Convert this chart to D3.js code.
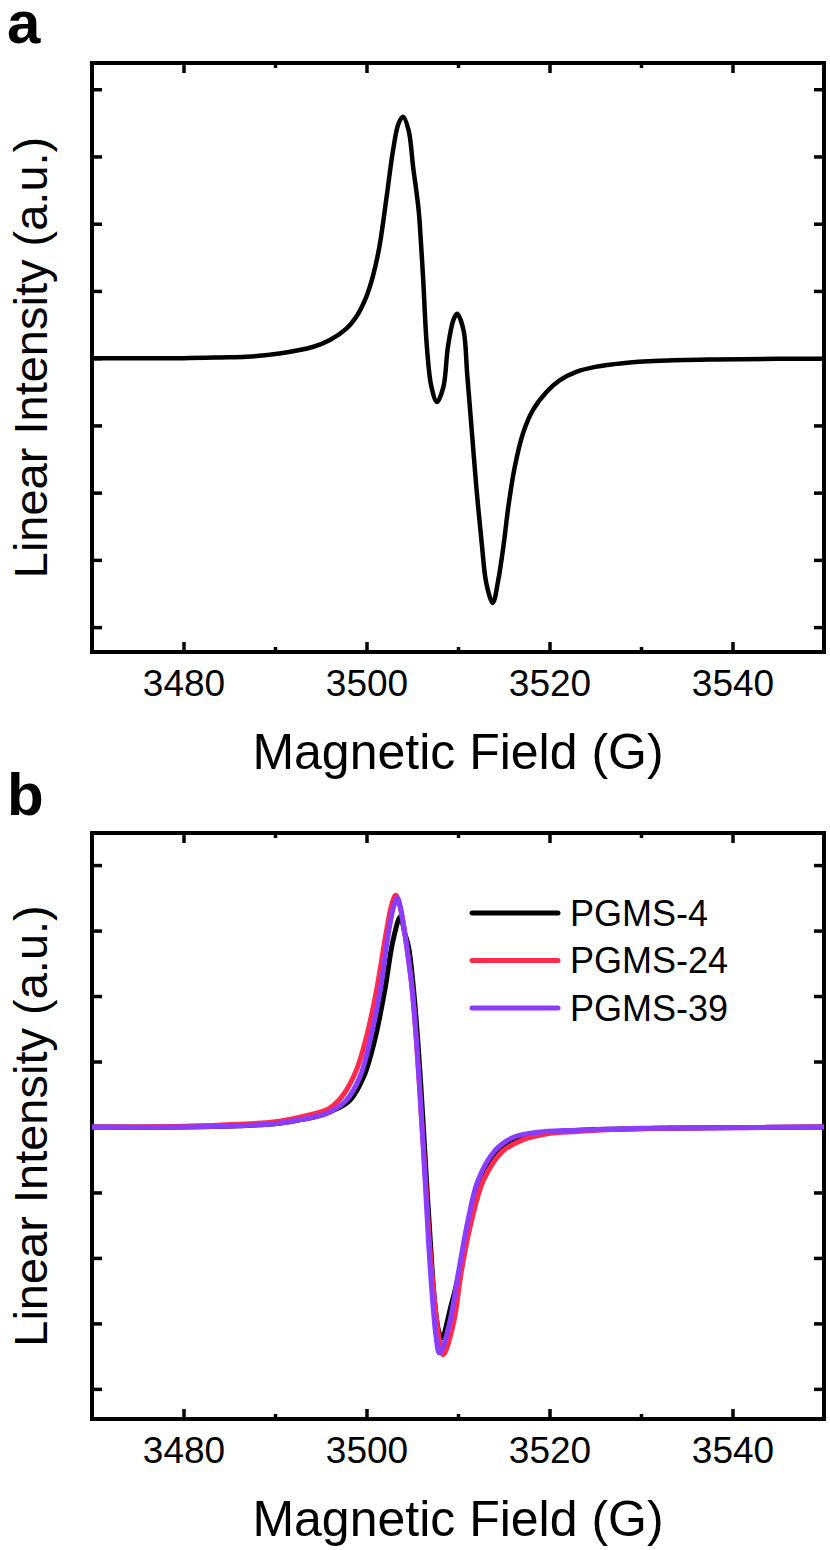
<!DOCTYPE html>
<html>
<head>
<meta charset="utf-8">
<script src="https://cdn.jsdelivr.net/npm/d3@7"></script>
<style>
  body { margin: 0; background: #fff; }
  text { font-family: 'Liberation Sans', Arial, sans-serif; fill: #000; }
</style>
</head>
<body>
<div id="chart"></div>
<script>
// EPR spectra, values: [field (G), intensity (a.u.)]

var spectrumA = [
  [3470, 0], [3475, 0], [3480, 0], [3484, 0.01], [3486.9, 0.02], [3490.5, 0.07],
  [3494.2, 0.17], [3496.0, 0.27], [3497.8, 0.44], [3498.9, 0.62], [3500.0, 0.92],
  [3500.7, 1.22], [3501.4, 1.65], [3502.2, 2.4], [3502.9, 3.09], [3503.5, 3.49],
  [3504.0, 3.59], [3504.6, 3.39], [3505.1, 2.84], [3505.7, 2.2], [3506.0, 1.61],
  [3506.2, 1.16], [3506.6, 0.17], [3507.1, -0.43], [3507.7, -0.65], [3508.4, -0.43],
  [3508.9, 0.17], [3509.5, 0.57], [3509.9, 0.66], [3510.6, 0.42], [3511.0, -0.23],
  [3511.5, -1.07], [3512.0, -1.91], [3512.6, -2.76], [3513.1, -3.35], [3513.8, -3.64],
  [3514.4, -3.3], [3515.0, -2.76], [3515.5, -2.21], [3516.2, -1.62], [3517.1, -1.12],
  [3518.2, -0.77], [3519.7, -0.5], [3521.1, -0.33], [3523, -0.2], [3525, -0.13],
  [3528, -0.075], [3532, -0.04], [3538, -0.02], [3545, -0.01], [3550, -0.01]
]

var pgms4 = [
  [3470, 0], [3480, 0], [3486, 0.02], [3490, 0.05], [3492.7, 0.11], [3494.5, 0.16],
  [3496.0, 0.23], [3498.2, 0.41], [3499.7, 0.77], [3500.9, 1.33], [3502.0, 2.09],
  [3502.9, 2.85], [3503.7, 3.21], [3504.2, 2.95], [3504.6, 2.75], [3505.15, 2.09],
  [3505.65, 1.23], [3506.15, 0.15], [3506.55, -0.8], [3507.0, -1.8], [3507.4, -2.6],
  [3507.85, -3.1], [3508.2, -3.22], [3509.3, -2.7], [3510.2, -2.18], [3511.3, -1.42],
  [3512.4, -0.81], [3514.4, -0.37], [3516.6, -0.17], [3520, -0.08], [3525, -0.04],
  [3532, -0.02], [3550, 0]
]

var pgms24 = [
  [3470, 0], [3480, 0.01], [3486, 0.04], [3490, 0.08], [3492.7, 0.15], [3494.5, 0.21],
  [3496.0, 0.29], [3497.5, 0.5], [3498.9, 0.87], [3500.0, 1.38], [3501.1, 2.09],
  [3502.2, 3.01], [3502.8, 3.42], [3503.2, 3.54], [3503.7, 3.35], [3504.4, 2.75],
  [3505.0, 2.09], [3505.5, 1.23], [3506.0, 0.15], [3506.45, -0.8], [3506.9, -1.8],
  [3507.4, -2.6], [3507.9, -3.2], [3508.4, -3.48], [3509.5, -3.0], [3510.4, -2.18],
  [3511.5, -1.42], [3512.8, -0.81], [3514.8, -0.38], [3517.0, -0.2], [3519.9, -0.1],
  [3523, -0.07], [3527, -0.04], [3532, -0.02], [3540, -0.01], [3550, 0]
]

var pgms39 = [
  [3470, 0], [3480, 0], [3486, 0.02], [3490, 0.05], [3492.7, 0.11], [3494.5, 0.16],
  [3496.0, 0.23], [3497.8, 0.41], [3499.3, 0.77], [3500.4, 1.33], [3501.5, 2.09],
  [3502.4, 2.96], [3503.0, 3.38], [3503.4, 3.49], [3503.9, 3.2], [3504.4, 2.75],
  [3505.0, 2.09], [3505.5, 1.23], [3506.0, 0.15], [3506.4, -0.8], [3506.8, -1.8],
  [3507.2, -2.6], [3507.6, -3.2], [3507.95, -3.45], [3508.5, -3.3], [3509.15, -2.95],
  [3510.1, -2.18], [3511.1, -1.42], [3512.2, -0.81], [3514.1, -0.35], [3516.2, -0.15],
  [3519.5, -0.07], [3523, -0.05], [3530, -0.02], [3540, -0.01], [3550, 0]
]

var seriesNames = ['PGMS-4', 'PGMS-24', 'PGMS-39']
var seriesColors = ['#000000', '#ff2a4c', '#8a3dff']

var xMajorTicks = [3480, 3500, 3520, 3540]
var xMinorTicks = [3490, 3510, 3530]
var yTicks = [-4, -3, -2, -1, 0, 1, 2, 3, 4]

// layout

var width = 830
var height = 1550
var left = 92
var right = 824

var svg = d3
  .select('#chart')
  .append('svg')
  .attr('width', width)
  .attr('height', height)

var xPositionScale = d3
  .scaleLinear()
  .domain([3470, 3550])
  .range([left, right])

var line = d3
  .line()
  .x(d => xPositionScale(d[0]))
  .curve(d3.curveCatmullRom.alpha(0.5))

function drawPanel(top, bottom, yDomain, letter, letterY) {
  var yPositionScale = d3
    .scaleLinear()
    .domain(yDomain)
    .range([bottom, top])

  var g = svg.append('g')

  // ticks, all pointing inward
  g.append('g')
    .attr('class', 'axis')
    .attr('transform', 'translate(0,' + bottom + ')')
    .call(
      d3
        .axisBottom(xPositionScale)
        .tickValues(xMajorTicks)
        .tickSize(-10)
        .tickPadding(18)
        .tickFormat(d3.format('d'))
    )
  g.append('g')
    .attr('class', 'axis')
    .attr('transform', 'translate(0,' + bottom + ')')
    .call(d3.axisBottom(xPositionScale).tickValues(xMinorTicks).tickSize(-5).tickFormat(''))
  g.append('g')
    .attr('class', 'axis')
    .attr('transform', 'translate(0,' + top + ')')
    .call(d3.axisTop(xPositionScale).tickValues(xMajorTicks).tickSize(-10).tickFormat(''))
  g.append('g')
    .attr('class', 'axis')
    .attr('transform', 'translate(0,' + top + ')')
    .call(d3.axisTop(xPositionScale).tickValues(xMinorTicks).tickSize(-5).tickFormat(''))
  g.append('g')
    .attr('class', 'axis')
    .attr('transform', 'translate(' + left + ',0)')
    .call(d3.axisLeft(yPositionScale).tickValues(yTicks).tickSize(-10).tickFormat(''))
  g.append('g')
    .attr('class', 'axis')
    .attr('transform', 'translate(' + right + ',0)')
    .call(d3.axisRight(yPositionScale).tickValues(yTicks).tickSize(-10).tickFormat(''))

  g.selectAll('.axis .domain').remove()
  g.selectAll('.axis line').attr('stroke', '#000').attr('stroke-width', 3.5)
  g.selectAll('.axis text')
    .attr('font-size', 37)
    .style('font-family', "'Liberation Sans', Arial, sans-serif")
    .attr('fill', '#000')

  g.append('rect')
    .attr('x', left)
    .attr('y', top)
    .attr('width', right - left)
    .attr('height', bottom - top)
    .attr('fill', 'none')
    .attr('stroke', '#000')
    .attr('stroke-width', 4)

  g.append('text')
    .text('Magnetic Field (G)')
    .attr('x', (left + right) / 2)
    .attr('y', bottom + 117)
    .attr('text-anchor', 'middle')
    .attr('font-size', 50)

  g.append('text')
    .text('Linear Intensity (a.u.)')
    .attr('transform', 'translate(47,' + (top + bottom) / 2 + ') rotate(-90)')
    .attr('text-anchor', 'middle')
    .attr('font-size', 47)

  g.append('text')
    .text(letter)
    .attr('x', 7)
    .attr('y', letterY)
    .attr('font-size', 60)
    .attr('font-weight', 'bold')

  return { g: g, y: yPositionScale }
}

// panel a

var panelA = drawPanel(63, 652, [-4.37, 4.39], 'a', 43)

panelA.g
  .append('path')
  .datum(spectrumA)
  .attr('d', line.y(d => panelA.y(d[1])))
  .attr('fill', 'none')
  .attr('stroke', '#000')
  .attr('stroke-width', 4.5)
  .attr('stroke-linejoin', 'round')

// panel b

var panelB = drawPanel(833, 1419, [-4.46, 4.49], 'b', 815)

var seriesB = [pgms4, pgms24, pgms39]

panelB.g
  .selectAll('.spectrum')
  .data(seriesB)
  .enter()
  .append('path')
  .attr('class', 'spectrum')
  .attr('d', d => line.y(p => panelB.y(p[1]))(d))
  .attr('fill', 'none')
  .attr('stroke', (d, i) => seriesColors[i])
  .attr('stroke-width', 5)
  .attr('stroke-linejoin', 'round')

var legend = panelB.g
  .selectAll('.legend')
  .data(seriesNames)
  .enter()
  .append('g')
  .attr('class', 'legend')
  .attr('transform', (d, i) => 'translate(472,' + (913 + i * 47.5) + ')')

legend
  .append('line')
  .attr('x1', 0)
  .attr('x2', 86)
  .attr('stroke', (d, i) => seriesColors[i])
  .attr('stroke-width', 5)
  .attr('stroke-linecap', 'round')

legend
  .append('text')
  .text(d => d)
  .attr('x', 98)
  .attr('dy', '0.35em')
  .attr('font-size', 36)
</script>
</body>
</html>
